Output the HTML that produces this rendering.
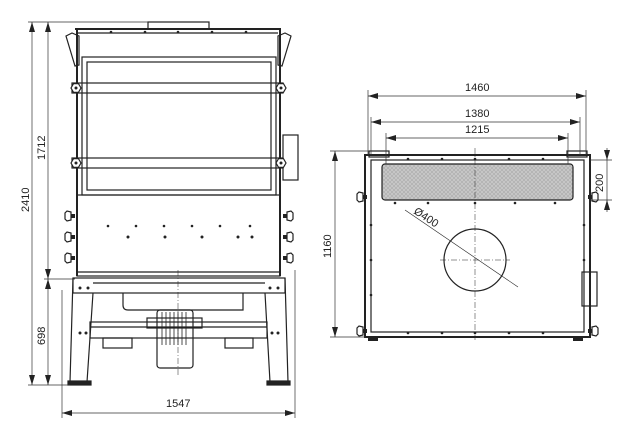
<!DOCTYPE html>
<html><head><style>
html,body{margin:0;padding:0;background:#fff;}
svg{display:block;}
text{font-family:"Liberation Sans",sans-serif;font-size:11px;fill:#222;}
</style></head><body>
<svg width="630" height="445" viewBox="0 0 630 445" xmlns="http://www.w3.org/2000/svg">
<defs>
<marker id="a" markerWidth="10" markerHeight="6" refX="10" refY="3" orient="auto-start-reverse" markerUnits="userSpaceOnUse"><path d="M0,0 L10,3 L0,6z" fill="#222"/></marker>
<pattern id="h" width="4" height="4" patternUnits="userSpaceOnUse"><rect width="4" height="4" fill="#c8c8c8"/><path d="M0,0L4,4M4,0L0,4" stroke="#aaa" stroke-width="0.6"/></pattern>
<g id="kl"><path d="M0,-4 L-4,-5 L-6,-3 L-6,3 L-4,5 L0,4 Z" fill="#fff" stroke="#222" stroke-width="1.2"/><rect x="0" y="-2" width="4" height="4" fill="#222"/></g>
<g id="hx"><path d="M-5,0 L-2.5,-4.3 L2.5,-4.3 L5,0 L2.5,4.3 L-2.5,4.3Z" fill="#fff" stroke="#222" stroke-width="1.2"/><circle r="1.5" fill="#222"/></g>
</defs>
<g fill="none" stroke="#222" stroke-width="1.2">
<!-- LEFT VIEW -->
<rect x="148" y="22" width="61" height="7"/>
<line x1="75" y1="29" x2="281" y2="29" stroke-width="2"/>
<line x1="78" y1="33" x2="278" y2="33"/>
<path d="M66,36 L72,33 L79,36 L79,65 L75,66 Z"/>
<path d="M291,36 L285,33 L278,36 L278,65 L282,66 Z"/>
<line x1="77" y1="29" x2="77" y2="276" stroke-width="2"/>
<line x1="280" y1="29" x2="280" y2="276" stroke-width="2"/>
<rect x="82" y="57" width="194" height="138"/>
<rect x="87" y="62" width="184" height="128"/>
<rect x="72" y="83" width="211" height="10"/>
<rect x="72" y="158" width="211" height="10"/>
<rect x="283" y="135" width="15" height="45"/>
<rect x="77" y="195" width="203" height="81"/>
<line x1="77" y1="272" x2="280" y2="272"/>
<!-- stand -->
<rect x="73" y="278" width="212" height="15"/>
<line x1="93" y1="283" x2="265" y2="283"/>
<path d="M73,278 L70,382 M93,293 L87,382 M285,278 L288,382 M265,293 L270,382"/>
<rect x="68" y="381" width="23" height="4" fill="#222"/>
<rect x="267" y="381" width="23" height="4" fill="#222"/>
<rect x="90" y="322" width="177" height="16"/>
<line x1="90" y1="327" x2="267" y2="327"/>
<path d="M123,293 L123,305 Q123,310 128,310 L243,310 L243,293"/>
<rect x="147" y="318" width="55" height="10"/>
<rect x="157" y="310" width="36" height="58" rx="3"/>
<g stroke-width="0.8"><path d="M162,312V345M166,312V345M170,312V345M174,312V345M178,312V345M182,312V345M186,312V345"/></g>
<rect x="103" y="338" width="29" height="10"/>
<rect x="225" y="338" width="28" height="10"/>
<line x1="178" y1="270" x2="178" y2="375" stroke-width="0.5" stroke-dasharray="6,2,1,2"/>
</g>
<use href="#kl" x="71" y="216"/><use href="#kl" x="71" y="237"/><use href="#kl" x="71" y="258"/>
<use href="#kl" transform="translate(287,216) scale(-1,1)"/><use href="#kl" transform="translate(287,237) scale(-1,1)"/><use href="#kl" transform="translate(287,258) scale(-1,1)"/>
<use href="#hx" x="76" y="88"/><use href="#hx" x="281" y="88"/><use href="#hx" x="76" y="163"/><use href="#hx" x="281" y="163"/>
<g fill="#222">
<circle cx="111" cy="32" r="1.3"/><circle cx="145" cy="32" r="1.3"/><circle cx="178" cy="32" r="1.3"/><circle cx="212" cy="32" r="1.3"/><circle cx="246" cy="32" r="1.3"/>
<circle cx="108" cy="226" r="1.3"/><circle cx="136" cy="226" r="1.3"/><circle cx="164" cy="226" r="1.3"/><circle cx="192" cy="226" r="1.3"/><circle cx="220" cy="226" r="1.3"/><circle cx="250" cy="226" r="1.3"/>
<circle cx="128" cy="237" r="1.5"/><circle cx="165" cy="237" r="1.5"/><circle cx="202" cy="237" r="1.5"/><circle cx="238" cy="237" r="1.5"/><circle cx="252" cy="237" r="1.5"/>
<circle cx="80" cy="288" r="1.5"/><circle cx="88" cy="288" r="1.5"/><circle cx="270" cy="288" r="1.5"/><circle cx="278" cy="288" r="1.5"/>
<circle cx="80" cy="333" r="1.5"/><circle cx="86" cy="333" r="1.5"/><circle cx="272" cy="333" r="1.5"/><circle cx="278" cy="333" r="1.5"/>
</g>
<!-- left dims -->
<g stroke="#333" stroke-width="0.7" fill="none">
<line x1="28" y1="22" x2="148" y2="22"/>
<line x1="28" y1="385" x2="70" y2="385"/>
<line x1="44" y1="279" x2="75" y2="279"/>
<line x1="62" y1="290" x2="62" y2="418"/>
<line x1="295" y1="270" x2="295" y2="418"/>
<line x1="32" y1="22" x2="32" y2="385" marker-start="url(#a)" marker-end="url(#a)"/>
<line x1="48" y1="22" x2="48" y2="279" marker-start="url(#a)" marker-end="url(#a)"/>
<line x1="48" y1="279" x2="48" y2="385" marker-start="url(#a)" marker-end="url(#a)"/>
<line x1="62" y1="413" x2="295" y2="413" marker-start="url(#a)" marker-end="url(#a)"/>
</g>
<text transform="translate(29,212) rotate(-90)">2410</text>
<text transform="translate(45,160) rotate(-90)">1712</text>
<text transform="translate(45,345) rotate(-90)">698</text>
<text x="166" y="407">1547</text>

<!-- RIGHT VIEW -->
<g fill="none" stroke="#222" stroke-width="1.2">
<rect x="365" y="155" width="225" height="182" stroke-width="2"/>
<rect x="371" y="160" width="213" height="172"/>
<rect x="382" y="164" width="191" height="36" rx="3" fill="url(#h)"/>
<circle cx="475" cy="260" r="31"/>
<rect x="582" y="272" width="15" height="34"/>
<rect x="369" y="151" width="20" height="6"/><rect x="567" y="151" width="20" height="6"/>
<line x1="475" y1="148" x2="475" y2="340" stroke-width="0.5" stroke-dasharray="6,2,1,2"/>
<line x1="440" y1="260" x2="510" y2="260" stroke-width="0.5" stroke-dasharray="6,2,1,2"/>
<line x1="405" y1="210" x2="518" y2="287" stroke-width="0.6"/>
</g>
<use href="#kl" x="363" y="197"/><use href="#kl" transform="translate(592,197) scale(-1,1)"/>
<use href="#kl" x="363" y="331"/><use href="#kl" transform="translate(592,331) scale(-1,1)"/>
<g fill="#222">
<rect x="368" y="337" width="10" height="4"/><rect x="573" y="337" width="10" height="4"/>
<circle cx="408" cy="159" r="1.3"/><circle cx="442" cy="159" r="1.3"/><circle cx="475" cy="159" r="1.3"/><circle cx="509" cy="159" r="1.3"/><circle cx="543" cy="159" r="1.3"/>
<circle cx="395" cy="203" r="1.3"/><circle cx="428" cy="203" r="1.3"/><circle cx="475" cy="203" r="1.3"/><circle cx="515" cy="203" r="1.3"/><circle cx="555" cy="203" r="1.3"/>
<circle cx="408" cy="333" r="1.3"/><circle cx="442" cy="333" r="1.3"/><circle cx="475" cy="333" r="1.3"/><circle cx="509" cy="333" r="1.3"/><circle cx="543" cy="333" r="1.3"/>
<circle cx="371" cy="225" r="1.3"/><circle cx="371" cy="260" r="1.3"/><circle cx="371" cy="295" r="1.3"/>
<circle cx="584" cy="225" r="1.3"/><circle cx="584" cy="260" r="1.3"/>
</g>
<g stroke="#333" stroke-width="0.7" fill="none">
<line x1="368" y1="90" x2="368" y2="155"/><line x1="586" y1="90" x2="586" y2="155"/>
<line x1="371" y1="117" x2="371" y2="155"/><line x1="580" y1="117" x2="580" y2="155"/>
<line x1="386" y1="133" x2="386" y2="164"/><line x1="568" y1="133" x2="568" y2="164"/>
<line x1="368" y1="96" x2="586" y2="96" marker-start="url(#a)" marker-end="url(#a)"/>
<line x1="371" y1="122" x2="580" y2="122" marker-start="url(#a)" marker-end="url(#a)"/>
<line x1="386" y1="138" x2="568" y2="138" marker-start="url(#a)" marker-end="url(#a)"/>
<line x1="330" y1="151" x2="368" y2="151"/>
<line x1="330" y1="337" x2="365" y2="337"/>
<line x1="335" y1="151" x2="335" y2="337" marker-start="url(#a)" marker-end="url(#a)"/>
<line x1="590" y1="160" x2="612" y2="160"/><line x1="590" y1="200" x2="612" y2="200"/>
<line x1="607" y1="148" x2="607" y2="160" marker-end="url(#a)"/>
<line x1="607" y1="212" x2="607" y2="200" marker-end="url(#a)"/>
<line x1="607" y1="160" x2="607" y2="200"/>
</g>
<text x="465" y="91">1460</text>
<text x="465" y="117">1380</text>
<text x="465" y="133">1215</text>
<text transform="translate(331,258) rotate(-90)">1160</text>
<text transform="translate(603,192) rotate(-90)">200</text>
<text transform="translate(413,213) rotate(33)">Ø400</text>
</svg>
</body></html>
